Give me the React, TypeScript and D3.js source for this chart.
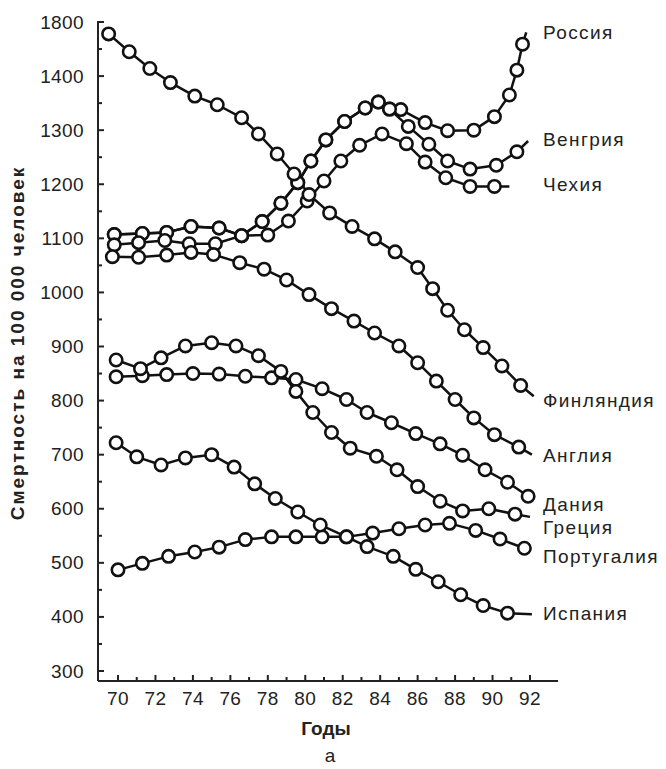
import React from "react";
import * as d3 from "d3";

type Pt = [number, number];

// Mortality per 100 000 population, by year (two-digit years, 19xx)
const russia: Pt[] = [
  [69.8, 1107], [71.3, 1109], [72.6, 1111], [73.9, 1122], [75.4, 1119], [76.6, 1105],
  [77.7, 1131], [78.7, 1165], [79.6, 1203], [80.3, 1243], [81.1, 1282], [82.1, 1316],
  [83.2, 1341], [83.9, 1352], [84.5, 1339], [85.1, 1338], [86.4, 1314], [87.6, 1299],
  [89.0, 1300], [90.1, 1325], [90.9, 1365], [91.3, 1411], [91.6, 1459], [91.8, 1481],
];
const hungary: Pt[] = [
  [69.8, 1107], [71.3, 1109], [72.6, 1111], [73.9, 1122], [75.4, 1119], [76.6, 1105],
  [77.7, 1131], [78.7, 1165], [79.6, 1203], [80.3, 1243], [81.1, 1282], [82.1, 1316],
  [83.2, 1341], [83.9, 1352], [84.5, 1339], [85.5, 1307], [86.6, 1274], [87.6, 1243],
  [88.8, 1228], [90.2, 1235], [91.3, 1260], [91.9, 1280],
];
const czech: Pt[] = [
  [69.8, 1088], [71.1, 1092], [72.5, 1096], [73.8, 1090], [75.2, 1090], [76.6, 1105],
  [78.0, 1106], [79.1, 1132], [80.1, 1169], [81.0, 1206], [81.9, 1243], [82.9, 1272],
  [84.1, 1293], [85.4, 1275], [86.4, 1241], [87.5, 1212], [88.8, 1196], [90.1, 1196],
  [90.9, 1196],
];
const finland: Pt[] = [
  [69.5, 1478], [70.6, 1445], [71.7, 1414], [72.8, 1388], [74.1, 1363], [75.3, 1347],
  [76.6, 1323], [77.5, 1293], [78.5, 1256], [79.4, 1219], [80.2, 1181], [81.3, 1147],
  [82.5, 1122], [83.7, 1099], [84.8, 1075], [86.0, 1046], [86.8, 1007], [87.6, 967],
  [88.5, 931], [89.5, 898], [90.5, 864], [91.5, 828], [92.2, 808],
];
const england: Pt[] = [
  [69.7, 1066], [71.1, 1065], [72.6, 1069], [73.9, 1074], [75.1, 1070], [76.5, 1055],
  [77.8, 1043], [79.0, 1023], [80.2, 996], [81.4, 970], [82.6, 947], [83.7, 925],
  [85.0, 901], [86.0, 870], [87.0, 836], [88.0, 802], [89.0, 768], [90.1, 737],
  [91.4, 714], [92.1, 700],
];
const denmark: Pt[] = [
  [69.9, 844], [71.3, 846], [72.6, 848], [74.0, 850], [75.4, 849], [76.8, 845],
  [78.2, 842], [79.5, 839], [80.9, 822], [82.2, 802], [83.3, 778], [84.6, 759],
  [85.9, 739], [87.2, 720], [88.4, 699], [89.6, 672], [90.8, 649], [91.9, 623],
];
const greece: Pt[] = [
  [69.9, 875], [71.2, 859], [72.3, 879], [73.6, 901], [75.0, 907], [76.3, 901],
  [77.5, 883], [78.7, 854], [79.5, 817], [80.4, 778], [81.4, 741], [82.4, 712],
  [83.8, 697], [84.9, 672], [86.0, 641], [87.2, 614], [88.4, 596], [89.8, 600],
  [91.2, 590], [92.0, 585],
];
const portugal: Pt[] = [
  [70.0, 487], [71.3, 499], [72.7, 512], [74.1, 520], [75.4, 529], [76.8, 543],
  [78.2, 548], [79.5, 548], [80.9, 548], [82.2, 548], [83.6, 555], [85.0, 563],
  [86.4, 570], [87.7, 573], [89.1, 560], [90.4, 544], [91.7, 527],
];
const spain: Pt[] = [
  [69.9, 722], [71.0, 696], [72.3, 681], [73.6, 694], [75.0, 700], [76.2, 677],
  [77.3, 646], [78.4, 619], [79.6, 594], [80.8, 570], [82.2, 548], [83.3, 530],
  [84.7, 512], [85.9, 488], [87.1, 465], [88.3, 441], [89.5, 421], [90.8, 407],
  [92.1, 405],
];

const seriesNames = ["Россия", "Венгрия", "Чехия", "Финляндия", "Англия", "Дания", "Греция", "Португалия", "Испания"];
const seriesData = [russia, hungary, czech, finland, england, denmark, greece, portugal, spain];
// whether the last point of each series is an unmarked line end
const seriesTail = [true, true, true, true, true, false, true, false, true];
// vertical position (in data units) of each end label
const labelValues = [1480, 1282, 1199, 801, 699, 607, 566, 511, 407];

const yTickValues = [300, 400, 500, 600, 700, 800, 900, 1000, 1100, 1200, 1300, 1400, 1500];
const yTickLabels = ["300", "400", "500", "600", "700", "800", "900", "1000", "1100", "1200", "1300", "1400", "1800"];
const xTickLabels = ["70", "72", "74", "76", "78", "80", "82", "84", "86", "88", "90", "92"];

const yTitle = "Смертность на 100 000 человек";
const xTitle = "Годы";
const panelLetter = "а";

const W = 666;
const H = 769;
const FONT = "'Liberation Sans', Arial, Helvetica, sans-serif";

export default function App() {
  const x = d3.scaleLinear().domain([70, 92]).range([118, 530]);
  const y = d3.scaleLinear().domain([300, 1500]).range([671, 22]);
  const axisX = 98;
  const axisY = 681;

  const line = d3
    .line<Pt>()
    .x((d) => x(d[0]))
    .y((d) => y(d[1]));

  const yearTicks = d3.range(70, 93);
  const minorY = d3.range(350, 1500, 100);

  return (
    <svg
      width={W}
      height={H}
      style={{ position: "absolute", left: 0, top: 0, background: "#fff" }}
      fontFamily={FONT}
    >
      {/* axes */}
      <g stroke="#222" strokeWidth={2} fill="none">
        <line x1={axisX} y1={y(1500) - 1} x2={axisX} y2={axisY} />
        <line x1={axisX} y1={axisY} x2={558} y2={axisY} />
        {yTickValues.map((v) => (
          <line key={"yt" + v} x1={axisX} x2={axisX + 6} y1={y(v)} y2={y(v)} />
        ))}
        {minorY.map((v) => (
          <line key={"ym" + v} x1={axisX} x2={axisX + 4} y1={y(v)} y2={y(v)} />
        ))}
        {yearTicks.map((t) => (
          <line key={"xt" + t} x1={x(t)} x2={x(t)} y1={axisY} y2={axisY - (t % 2 === 0 ? 6 : 4)} />
        ))}
      </g>

      {/* tick labels */}
      <g fontSize={19} fill="#222" letterSpacing={0.4}>
        {yTickValues.map((v, i) => (
          <text key={"yl" + v} x={84} y={y(v)} textAnchor="end" dominantBaseline="central">
            {yTickLabels[i]}
          </text>
        ))}
        {xTickLabels.map((s) => (
          <text key={"xl" + s} x={x(+s)} y={705} textAnchor="middle">
            {s}
          </text>
        ))}
      </g>

      {/* titles */}
      <text
        transform={`translate(24, 343) rotate(-90)`}
        textAnchor="middle"
        fontSize={19}
        fontWeight="bold"
        letterSpacing={2}
        fill="#222"
      >
        {yTitle}
      </text>
      <text x={326} y={735} textAnchor="middle" fontSize={19} fontWeight="bold" fill="#222">
        {xTitle}
      </text>
      <text x={330} y={762} textAnchor="middle" fontSize={19} fill="#222">
        {panelLetter}
      </text>

      {/* series lines */}
      <g fill="none" stroke="#111" strokeWidth={2.5} strokeLinejoin="round">
        {seriesData.map((d, i) => (
          <path key={"ln" + i} d={line(d) ?? ""} />
        ))}
      </g>

      {/* markers */}
      <g fill="#fff" stroke="#111" strokeWidth={2.6}>
        {seriesData.map((d, i) =>
          (seriesTail[i] ? d.slice(0, -1) : d).map((p, j) => (
            <circle key={`c${i}-${j}`} cx={x(p[0])} cy={y(p[1])} r={6.2} />
          ))
        )}
      </g>

      {/* end labels */}
      <g fontSize={19} fill="#222" letterSpacing={1.4}>
        {seriesNames.map((n, i) => (
          <text key={"lab" + n} x={x(92) + 13} y={y(labelValues[i])} dominantBaseline="central">
            {n}
          </text>
        ))}
      </g>
    </svg>
  );
}
